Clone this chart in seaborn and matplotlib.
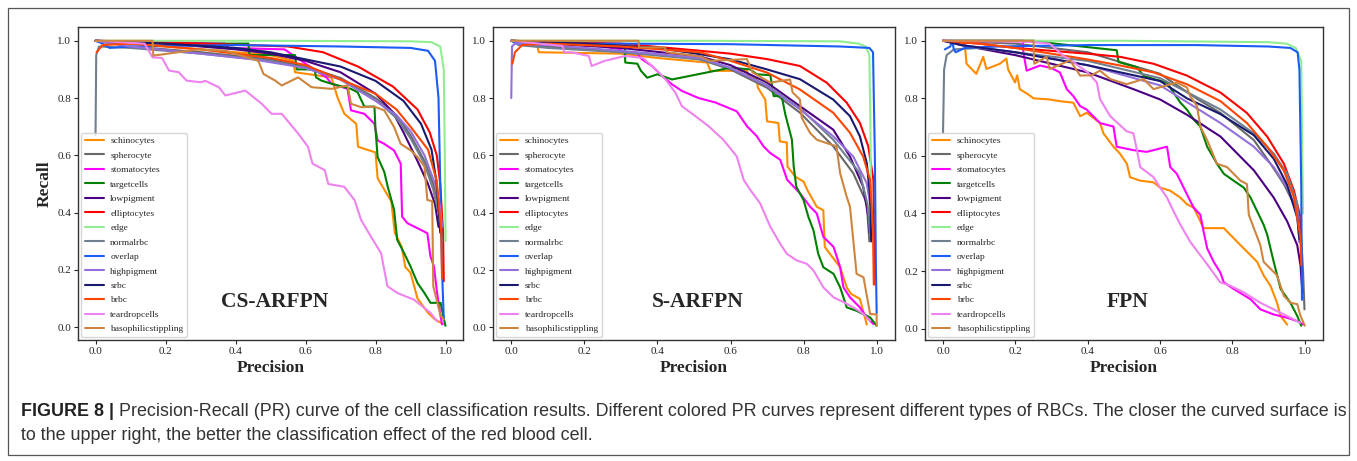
import matplotlib
matplotlib.use("Agg")
import matplotlib.pyplot as plt
from matplotlib.patches import Rectangle
import seaborn as sns

# class names and the colours used for them in every panel
CLASSES = ["schinocytes", "spherocyte", "stomatocytes", "targetcells",
           "lowpigment", "elliptocytes", "edge", "normalrbc", "overlap",
           "highpigment", "srbc", "brbc", "teardropcells",
           "basophilicstippling"]
COLORS = ["darkorange", "dimgray", "magenta", "green", "indigo", "red",
          "lightgreen", "slategray", "#1a5cf5", "mediumpurple",
          "midnightblue", "orangered", "violet", "peru"]

PANEL_NAMES = ["CS-ARFPN", "S-ARFPN", "FPN"]

# ---- CS-ARFPN curves, (precision, recall) ----
CS_SCHINO = [(0, 1.0), (0.3, 0.97), (0.5, 0.95), (0.565, 0.93), (0.57, 0.89),
             (0.674, 0.872), (0.692, 0.80), (0.711, 0.745), (0.745, 0.71),
             (0.75, 0.63), (0.80, 0.61), (0.806, 0.52), (0.83, 0.47),
             (0.845, 0.44), (0.855, 0.33), (0.875, 0.28), (0.885, 0.21),
             (0.90, 0.19), (0.92, 0.1), (0.95, 0.05), (0.97, 0.027),
             (0.995, 0.01)]
CS_SPHERO = [(0, 1.0), (0.1, 0.98), (0.3, 0.96), (0.5, 0.935), (0.6, 0.91),
             (0.7, 0.87), (0.8, 0.8), (0.86, 0.74), (0.9, 0.67), (0.94, 0.58),
             (0.965, 0.5), (0.98, 0.43), (0.99, 0.35)]
CS_STOMA = [(0, 1.0), (0.37, 0.99), (0.38, 0.975), (0.54, 0.97), (0.6, 0.92),
            (0.66, 0.872), (0.674, 0.85), (0.72, 0.832), (0.73, 0.757),
            (0.768, 0.745), (0.797, 0.71), (0.806, 0.652), (0.825, 0.64),
            (0.853, 0.617), (0.872, 0.571), (0.876, 0.386), (0.891, 0.363),
            (0.929, 0.34), (0.948, 0.328), (0.957, 0.247), (0.967, 0.212),
            (0.976, 0.119), (0.986, 0.038), (0.99, 0.01)]
CS_TARGET = [(0, 1.0), (0.2, 0.99), (0.437, 0.99), (0.44, 0.95), (0.57, 0.95),
             (0.575, 0.9), (0.626, 0.9), (0.63, 0.872), (0.645, 0.861),
             (0.674, 0.85), (0.73, 0.832), (0.749, 0.82), (0.768, 0.77),
             (0.797, 0.77), (0.80, 0.69), (0.806, 0.594), (0.825, 0.542),
             (0.835, 0.49), (0.853, 0.41), (0.862, 0.305), (0.882, 0.258),
             (0.90, 0.212), (0.92, 0.154), (0.94, 0.119), (0.957, 0.085),
             (0.986, 0.085), (0.995, 0.03), (1.0, 0.005)]
CS_LOWPIG = [(0, 1.0), (0.2, 0.99), (0.4, 0.97), (0.5, 0.955), (0.6, 0.93),
             (0.7, 0.89), (0.8, 0.815), (0.85, 0.75), (0.88, 0.68),
             (0.92, 0.58), (0.95, 0.5), (0.97, 0.43), (0.98, 0.35)]
CS_ELLIP = [(0, 1.0), (0.3, 0.99), (0.55, 0.98), (0.65, 0.96), (0.75, 0.91),
            (0.85, 0.84), (0.92, 0.76), (0.955, 0.68), (0.975, 0.6),
            (0.985, 0.5), (0.993, 0.33), (0.995, 0.16)]
CS_EDGE = [(0, 1.0), (0.5, 1.0), (0.9, 0.998), (0.96, 0.995), (0.985, 0.98),
           (0.995, 0.9), (0.998, 0.6), (1.0, 0.3)]
CS_NORMAL = [(0, 0.67), (0.002, 0.95), (0.01, 0.98), (0.1, 0.975),
             (0.3, 0.955), (0.5, 0.93), (0.6, 0.905), (0.7, 0.865),
             (0.8, 0.795), (0.86, 0.73), (0.9, 0.66), (0.94, 0.57),
             (0.965, 0.48), (0.98, 0.4), (0.99, 0.3)]
CS_OVERLAP = [(0, 1.0), (0.02, 0.99), (0.04, 0.975), (0.1, 0.98),
              (0.4, 0.985), (0.7, 0.98), (0.9, 0.975), (0.95, 0.965),
              (0.97, 0.93), (0.98, 0.8), (0.985, 0.5), (0.99, 0.2),
              (0.995, 0.03)]
CS_HIGHPIG = [(0, 1.0), (0.1, 0.98), (0.3, 0.955), (0.45, 0.935),
              (0.6, 0.905), (0.7, 0.865), (0.8, 0.79), (0.86, 0.74),
              (0.9, 0.685), (0.94, 0.6), (0.97, 0.5), (0.985, 0.42),
              (0.99, 0.35)]
CS_SRBC = [(0, 1.0), (0.2, 0.99), (0.4, 0.975), (0.5, 0.96), (0.6, 0.935),
           (0.7, 0.91), (0.8, 0.86), (0.88, 0.79), (0.93, 0.71), (0.96, 0.62),
           (0.975, 0.5), (0.985, 0.33)]
CS_BRBC = [(0.003, 0.96), (0.02, 0.985), (0.1, 0.99), (0.3, 0.97),
           (0.5, 0.94), (0.6, 0.915), (0.7, 0.865), (0.8, 0.815),
           (0.86, 0.76), (0.9, 0.7), (0.95, 0.62), (0.975, 0.51),
           (0.988, 0.33), (0.99, 0.17)]
CS_TEAR = [(0, 1.0), (0.14, 0.99), (0.163, 0.942), (0.19, 0.94), (0.21, 0.896),
           (0.238, 0.89), (0.26, 0.861), (0.3, 0.855), (0.314, 0.86),
           (0.352, 0.838), (0.371, 0.809), (0.428, 0.826), (0.475, 0.78),
           (0.503, 0.745), (0.532, 0.745), (0.579, 0.676), (0.607, 0.63),
           (0.62, 0.571), (0.655, 0.548), (0.665, 0.5), (0.711, 0.49),
           (0.74, 0.444), (0.759, 0.374), (0.787, 0.316), (0.816, 0.258),
           (0.834, 0.143), (0.863, 0.119), (0.91, 0.096), (0.957, 0.05),
           (0.976, 0.02)]
CS_BASO = [(0, 1.0), (0.163, 1.0), (0.165, 0.948), (0.295, 0.97),
           (0.371, 0.965), (0.465, 0.93), (0.48, 0.884), (0.513, 0.861),
           (0.532, 0.844), (0.579, 0.872), (0.617, 0.838), (0.674, 0.832),
           (0.72, 0.844), (0.73, 0.78), (0.759, 0.768), (0.797, 0.77),
           (0.825, 0.757), (0.853, 0.699), (0.872, 0.64), (0.9, 0.618),
           (0.92, 0.594), (0.94, 0.56), (0.948, 0.444), (0.962, 0.44),
           (0.965, 0.143), (0.986, 0.04), (0.995, 0.027)]

# ---- S-ARFPN curves ----
S_SCHINO = [(0, 1.0), (0.07, 0.99), (0.075, 0.96), (0.3, 0.955), (0.4, 0.94),
            (0.536, 0.924), (0.545, 0.895), (0.645, 0.895), (0.65, 0.877),
            (0.672, 0.865), (0.675, 0.836), (0.695, 0.795), (0.7, 0.719),
            (0.731, 0.713), (0.735, 0.649), (0.754, 0.645), (0.756, 0.561),
            (0.777, 0.526), (0.8, 0.509), (0.81, 0.48), (0.836, 0.421),
            (0.854, 0.409), (0.858, 0.281), (0.872, 0.257), (0.9, 0.21),
            (0.918, 0.14), (0.93, 0.117), (0.954, 0.1), (0.973, 0.01)]
S_SPHERO = [(0, 1.0), (0.05, 0.985), (0.2, 0.97), (0.4, 0.953),
            (0.517, 0.935), (0.6, 0.9), (0.7, 0.836), (0.79, 0.749),
            (0.881, 0.632), (0.936, 0.538), (0.973, 0.433), (0.98, 0.3)]
S_STOMA = [(0, 1.0), (0.2, 0.99), (0.3, 0.97), (0.307, 0.96), (0.345, 0.955),
           (0.357, 0.936), (0.385, 0.912), (0.413, 0.877), (0.44, 0.848),
           (0.467, 0.825), (0.513, 0.80), (0.558, 0.785), (0.617, 0.754),
           (0.645, 0.702), (0.672, 0.667), (0.69, 0.632), (0.709, 0.608),
           (0.736, 0.585), (0.755, 0.515), (0.79, 0.468), (0.818, 0.421),
           (0.836, 0.398), (0.854, 0.316), (0.882, 0.281), (0.9, 0.21),
           (0.909, 0.14), (0.927, 0.105), (0.954, 0.07), (0.973, 0.035),
           (0.991, 0.012)]
S_TARGET = [(0, 1.0), (0.2, 0.99), (0.31, 0.982), (0.312, 0.924),
            (0.345, 0.92), (0.355, 0.895), (0.372, 0.871), (0.4, 0.883),
            (0.44, 0.865), (0.6, 0.906), (0.654, 0.9), (0.672, 0.883),
            (0.709, 0.88), (0.718, 0.807), (0.74, 0.807), (0.75, 0.743),
            (0.768, 0.655), (0.773, 0.561), (0.78, 0.491), (0.8, 0.444),
            (0.813, 0.386), (0.827, 0.339), (0.84, 0.257), (0.854, 0.21),
            (0.882, 0.187), (0.9, 0.14), (0.918, 0.07), (0.945, 0.058),
            (0.982, 0.035), (1.0, 0.006)]
S_LOWPIG = [(0, 1.0), (0.1, 0.99), (0.3, 0.975), (0.517, 0.945),
            (0.6, 0.915), (0.7, 0.854), (0.79, 0.772), (0.881, 0.69),
            (0.927, 0.596), (0.963, 0.491), (0.977, 0.386), (0.98, 0.33)]
S_ELLIP = [(0, 1.0), (0.3, 0.99), (0.517, 0.965), (0.6, 0.955), (0.7, 0.936),
           (0.79, 0.912), (0.863, 0.854), (0.918, 0.784), (0.954, 0.714),
           (0.977, 0.632), (0.991, 0.515), (0.993, 0.3), (0.993, 0.15)]
S_EDGE = [(0, 1.0), (0.5, 1.0), (0.9, 0.998), (0.95, 0.99), (0.97, 0.98),
          (0.98, 0.95), (0.983, 0.7), (0.985, 0.34)]
S_NORMAL = [(0, 1.0), (0.02, 0.985), (0.1, 0.975), (0.3, 0.96),
            (0.517, 0.935), (0.6, 0.905), (0.7, 0.845), (0.79, 0.765),
            (0.881, 0.655), (0.954, 0.538), (0.975, 0.43), (0.982, 0.32)]
S_OVERLAP = [(0, 1.0), (0.02, 0.99), (0.3, 0.99), (0.6, 0.988), (0.9, 0.98),
             (0.98, 0.975), (0.99, 0.96), (0.995, 0.6), (0.998, 0.2),
             (1.0, 0.05)]
S_HIGHPIG = [(0, 0.8), (0.002, 0.98), (0.01, 0.99), (0.1, 0.985),
             (0.3, 0.965), (0.517, 0.94), (0.6, 0.905), (0.7, 0.842),
             (0.79, 0.761), (0.881, 0.667), (0.936, 0.596), (0.973, 0.503),
             (0.982, 0.43)]
S_SRBC = [(0, 1.0), (0.2, 0.99), (0.4, 0.975), (0.517, 0.953), (0.6, 0.935),
          (0.7, 0.9), (0.79, 0.866), (0.881, 0.795), (0.927, 0.737),
          (0.954, 0.667), (0.973, 0.573), (0.982, 0.456), (0.985, 0.3)]
S_BRBC = [(0.003, 0.92), (0.01, 0.96), (0.03, 0.985), (0.1, 0.99),
          (0.3, 0.98), (0.517, 0.96), (0.6, 0.93), (0.7, 0.889), (0.79, 0.83),
          (0.881, 0.749), (0.927, 0.679), (0.963, 0.596), (0.982, 0.515),
          (0.99, 0.34), (0.992, 0.15)]
S_TEAR = [(0, 1.0), (0.14, 0.982), (0.145, 0.96), (0.167, 0.959),
          (0.212, 0.947), (0.22, 0.912), (0.256, 0.93), (0.312, 0.947),
          (0.36, 0.94), (0.385, 0.912), (0.422, 0.866), (0.449, 0.819),
          (0.467, 0.772), (0.504, 0.737), (0.54, 0.702), (0.58, 0.655),
          (0.617, 0.597), (0.636, 0.515), (0.654, 0.48), (0.681, 0.433),
          (0.709, 0.351), (0.736, 0.292), (0.754, 0.257), (0.781, 0.234),
          (0.809, 0.222), (0.827, 0.199), (0.854, 0.14), (0.882, 0.105),
          (0.91, 0.088), (0.936, 0.07), (0.964, 0.047), (0.982, 0.023)]
S_BASO = [(0, 1.0), (0.348, 1.0), (0.35, 0.977), (0.42, 0.977),
          (0.425, 0.96), (0.517, 0.945), (0.545, 0.93), (0.645, 0.936),
          (0.66, 0.89), (0.709, 0.854), (0.763, 0.865), (0.77, 0.82),
          (0.79, 0.795), (0.795, 0.731), (0.818, 0.678), (0.836, 0.655),
          (0.863, 0.643), (0.89, 0.632), (0.9, 0.538), (0.918, 0.456),
          (0.927, 0.421), (0.945, 0.187), (0.964, 0.175), (0.982, 0.047),
          (1.0, 0.045), (1.0, 0.006)]

# ---- FPN curves ----
F_SCHINO = [(0, 1.0), (0.06, 0.99), (0.065, 0.92), (0.092, 0.885),
            (0.111, 0.944), (0.12, 0.902), (0.157, 0.92), (0.175, 0.938),
            (0.18, 0.9), (0.199, 0.855), (0.205, 0.88), (0.212, 0.832),
            (0.235, 0.814), (0.25, 0.80), (0.295, 0.796), (0.323, 0.79),
            (0.36, 0.785), (0.379, 0.738), (0.397, 0.75), (0.434, 0.714),
            (0.443, 0.679), (0.471, 0.632), (0.489, 0.608), (0.508, 0.573),
            (0.517, 0.526), (0.545, 0.514), (0.582, 0.508), (0.6, 0.49),
            (0.628, 0.479), (0.656, 0.455), (0.674, 0.432), (0.693, 0.42),
            (0.711, 0.373), (0.72, 0.349), (0.776, 0.349), (0.794, 0.326),
            (0.822, 0.29), (0.85, 0.255), (0.868, 0.232), (0.886, 0.185),
            (0.905, 0.149), (0.923, 0.09), (0.933, 0.044), (0.951, 0.014)]
F_SPHERO = [(0, 1.0), (0.2, 0.99), (0.4, 0.96), (0.6, 0.885), (0.7, 0.8),
            (0.767, 0.749), (0.859, 0.655), (0.905, 0.573), (0.942, 0.502),
            (0.97, 0.432), (0.988, 0.36), (0.995, 0.2), (0.999, 0.067)]
F_STOMA = [(0, 1.0), (0.22, 1.0), (0.222, 0.961), (0.231, 0.896),
           (0.268, 0.914), (0.3, 0.905), (0.323, 0.89), (0.342, 0.832),
           (0.36, 0.808), (0.379, 0.773), (0.397, 0.761), (0.415, 0.738),
           (0.434, 0.714), (0.471, 0.702), (0.48, 0.632), (0.526, 0.62),
           (0.563, 0.614), (0.619, 0.632), (0.628, 0.561), (0.646, 0.538),
           (0.665, 0.49), (0.683, 0.444), (0.693, 0.42), (0.711, 0.396),
           (0.72, 0.338), (0.73, 0.279), (0.748, 0.232), (0.766, 0.196),
           (0.776, 0.161), (0.803, 0.138), (0.85, 0.102), (0.877, 0.067),
           (0.914, 0.049), (0.951, 0.038), (0.979, 0.026), (0.997, 0.014)]
F_TARGET = [(0, 1.0), (0.25, 1.0), (0.31, 0.99), (0.48, 0.967),
            (0.485, 0.926), (0.536, 0.908), (0.554, 0.879), (0.582, 0.867),
            (0.619, 0.855), (0.637, 0.82), (0.656, 0.785), (0.674, 0.761),
            (0.693, 0.726), (0.711, 0.702), (0.73, 0.632), (0.757, 0.573),
            (0.776, 0.538), (0.803, 0.514), (0.831, 0.49), (0.85, 0.455),
            (0.868, 0.408), (0.886, 0.361), (0.896, 0.326), (0.914, 0.232),
            (0.933, 0.138), (0.96, 0.09), (0.979, 0.044), (0.99, 0.01)]
F_LOWPIG = [(0.02, 1.0), (0.05, 0.985), (0.2, 0.95), (0.4, 0.89),
            (0.526, 0.832), (0.6, 0.796), (0.674, 0.743), (0.767, 0.667),
            (0.859, 0.55), (0.914, 0.455), (0.951, 0.373), (0.979, 0.29),
            (0.988, 0.22), (0.993, 0.126)]
F_ELLIP = [(0, 1.0), (0.1, 0.99), (0.2, 0.975), (0.4, 0.955), (0.49, 0.944),
           (0.582, 0.92), (0.674, 0.879), (0.767, 0.82), (0.84, 0.749),
           (0.896, 0.667), (0.942, 0.573), (0.97, 0.479), (0.988, 0.385),
           (0.99, 0.26)]
F_EDGE = [(0, 1.0), (0.5, 1.0), (0.9, 0.995), (0.95, 0.99), (0.975, 0.975),
          (0.99, 0.93), (0.993, 0.6), (0.995, 0.4)]
F_NORMAL = [(0, 0.68), (0.003, 0.9), (0.01, 0.95), (0.03, 0.97), (0.1, 0.975),
            (0.2, 0.96), (0.4, 0.93), (0.6, 0.87), (0.767, 0.761),
            (0.859, 0.678), (0.914, 0.608), (0.951, 0.538), (0.979, 0.432),
            (0.985, 0.3)]
F_OVERLAP = [(0.005, 0.97), (0.02, 0.98), (0.025, 1.0), (0.03, 0.97),
             (0.035, 0.96), (0.06, 0.975), (0.15, 0.98), (0.4, 0.985),
             (0.7, 0.985), (0.9, 0.98), (0.96, 0.975), (0.98, 0.96),
             (0.985, 0.9), (0.99, 0.5), (0.992, 0.1)]
F_HIGHPIG = [(0, 1.0), (0.05, 0.985), (0.2, 0.96), (0.4, 0.915),
             (0.6, 0.845), (0.767, 0.714), (0.859, 0.632), (0.914, 0.561),
             (0.951, 0.491), (0.979, 0.409), (0.985, 0.3)]
F_SRBC = [(0, 1.0), (0.05, 0.985), (0.2, 0.96), (0.4, 0.915), (0.6, 0.86),
          (0.674, 0.8), (0.767, 0.745), (0.859, 0.672), (0.914, 0.59),
          (0.951, 0.5), (0.979, 0.385), (0.985, 0.31)]
F_BRBC = [(0, 1.0), (0.1, 0.99), (0.2, 0.975), (0.3, 0.955), (0.4, 0.935),
          (0.49, 0.914), (0.582, 0.89), (0.674, 0.849), (0.767, 0.79),
          (0.84, 0.714), (0.896, 0.632), (0.942, 0.549), (0.97, 0.456),
          (0.988, 0.314), (0.99, 0.22)]
F_TEAR = [(0, 1.0), (0.24, 0.996), (0.295, 0.99), (0.33, 0.95), (0.36, 0.926),
          (0.4, 0.89), (0.425, 0.855), (0.434, 0.797), (0.462, 0.738),
          (0.508, 0.685), (0.526, 0.679), (0.536, 0.62), (0.545, 0.561),
          (0.582, 0.526), (0.6, 0.49), (0.619, 0.455), (0.637, 0.408),
          (0.656, 0.361), (0.683, 0.302), (0.711, 0.255), (0.739, 0.208),
          (0.766, 0.161), (0.794, 0.149), (0.831, 0.126), (0.877, 0.09),
          (0.923, 0.061), (0.96, 0.038), (0.988, 0.02)]
F_BASO = [(0, 1.0), (0.25, 1.0), (0.252, 0.92), (0.286, 0.944),
          (0.295, 0.902), (0.351, 0.932), (0.379, 0.879), (0.41, 0.88),
          (0.434, 0.896), (0.462, 0.867), (0.508, 0.849), (0.554, 0.867),
          (0.582, 0.832), (0.646, 0.855), (0.674, 0.838), (0.683, 0.808),
          (0.702, 0.773), (0.711, 0.702), (0.73, 0.655), (0.757, 0.573),
          (0.785, 0.561), (0.803, 0.538), (0.822, 0.514), (0.84, 0.502),
          (0.845, 0.396), (0.859, 0.349), (0.877, 0.29), (0.886, 0.232),
          (0.905, 0.208), (0.923, 0.185), (0.942, 0.114), (0.96, 0.09),
          (0.979, 0.085), (0.988, 0.044), (1.0, 0.01)]

CS_CURVES = [CS_SCHINO, CS_SPHERO, CS_STOMA, CS_TARGET, CS_LOWPIG, CS_ELLIP,
             CS_EDGE, CS_NORMAL, CS_OVERLAP, CS_HIGHPIG, CS_SRBC, CS_BRBC,
             CS_TEAR, CS_BASO]
S_CURVES = [S_SCHINO, S_SPHERO, S_STOMA, S_TARGET, S_LOWPIG, S_ELLIP, S_EDGE,
            S_NORMAL, S_OVERLAP, S_HIGHPIG, S_SRBC, S_BRBC, S_TEAR, S_BASO]
F_CURVES = [F_SCHINO, F_SPHERO, F_STOMA, F_TARGET, F_LOWPIG, F_ELLIP, F_EDGE,
            F_NORMAL, F_OVERLAP, F_HIGHPIG, F_SRBC, F_BRBC, F_TEAR, F_BASO]

TICKS = [0.0, 0.2, 0.4, 0.6, 0.8, 1.0]

CAPTION_HEAD = "FIGURE 8 |"
CAPTION_LINE1 = ("Precision-Recall (PR) curve of the cell classification "
                 "results. Different colored PR curves represent different "
                 "types of RBCs. The closer the curved surface is")
CAPTION_LINE2 = ("to the upper right, the better the classification effect "
                 "of the red blood cell.")

SERIF = "Liberation Serif"
SANS = "Liberation Sans"


def draw_panel(ax, curves, name, show_ylabel):
    """Draw the 14 PR curves of one model into ax."""
    for cls, color, pts in zip(CLASSES, COLORS, curves):
        prec = [p for p, r in pts]
        rec = [r for p, r in pts]
        sns.lineplot(x=prec, y=rec, color=color, label=cls, sort=False,
                     estimator=None, linewidth=1.5, ax=ax)

    ax.set_xticks(TICKS)
    ax.set_yticks(TICKS)
    ax.tick_params(labelsize=8, length=3, width=0.8, pad=2)
    for lab in ax.get_xticklabels() + ax.get_yticklabels():
        lab.set_fontfamily(SERIF)
    for sp in ax.spines.values():
        sp.set_visible(True)
        sp.set_color("#333333")
        sp.set_linewidth(1.0)

    ax.set_xlabel("Precision", fontsize=12.5, fontweight="bold",
                  fontfamily=SERIF, labelpad=3)
    if show_ylabel:
        ax.set_ylabel("Recall", fontsize=12.5, fontweight="bold",
                      fontfamily=SERIF, labelpad=3)
    else:
        ax.set_ylabel("")

    ax.legend(loc="lower left", prop={"family": SERIF, "size": 6.8},
              labelspacing=0.62, handlelength=2.0, handletextpad=0.7,
              borderaxespad=0.3, borderpad=0.4, framealpha=0.8)
    ax.text(0.51, 0.12, name, transform=ax.transAxes, ha="center",
            va="center", fontsize=15.5, fontweight="bold", fontfamily=SERIF)


def main():
    sns.set_style("ticks")
    fig = plt.figure(figsize=(13.57, 4.61), dpi=100)

    ax1 = fig.add_axes([0.0575, 0.2625, 0.2837, 0.680])
    ax2 = fig.add_axes([0.3633, 0.2625, 0.2962, 0.680])
    ax3 = fig.add_axes([0.6816, 0.2625, 0.2933, 0.680])

    draw_panel(ax1, CS_CURVES, PANEL_NAMES[0], True)
    draw_panel(ax2, S_CURVES, PANEL_NAMES[1], False)
    draw_panel(ax3, F_CURVES, PANEL_NAMES[2], False)

    # outer frame of the journal figure
    fig.patches.append(Rectangle((0.0059, 0.013), 0.9882, 0.9696,
                                 transform=fig.transFigure, fill=False,
                                 edgecolor="#555555", linewidth=0.9))

    # caption: bold head then regular text
    x0 = 21 / 1357
    y1 = 1 - 411 / 461
    y2 = 1 - 435 / 461
    size = 12.9
    head = fig.text(x0, y1, CAPTION_HEAD, fontsize=size, fontweight="bold",
                    fontfamily=SANS, color="#222222", va="center")
    renderer = fig.canvas.get_renderer()
    bb = head.get_window_extent(renderer=renderer)
    x_after = (bb.x1 + 5) / fig.bbox.width
    fig.text(x_after, y1, CAPTION_LINE1, fontsize=size, fontfamily=SANS,
             color="#333333", va="center")
    fig.text(x0, y2, CAPTION_LINE2, fontsize=size, fontfamily=SANS,
             color="#333333", va="center")

    fig.savefig("out.png", dpi=100)


if __name__ == "__main__":
    main()
